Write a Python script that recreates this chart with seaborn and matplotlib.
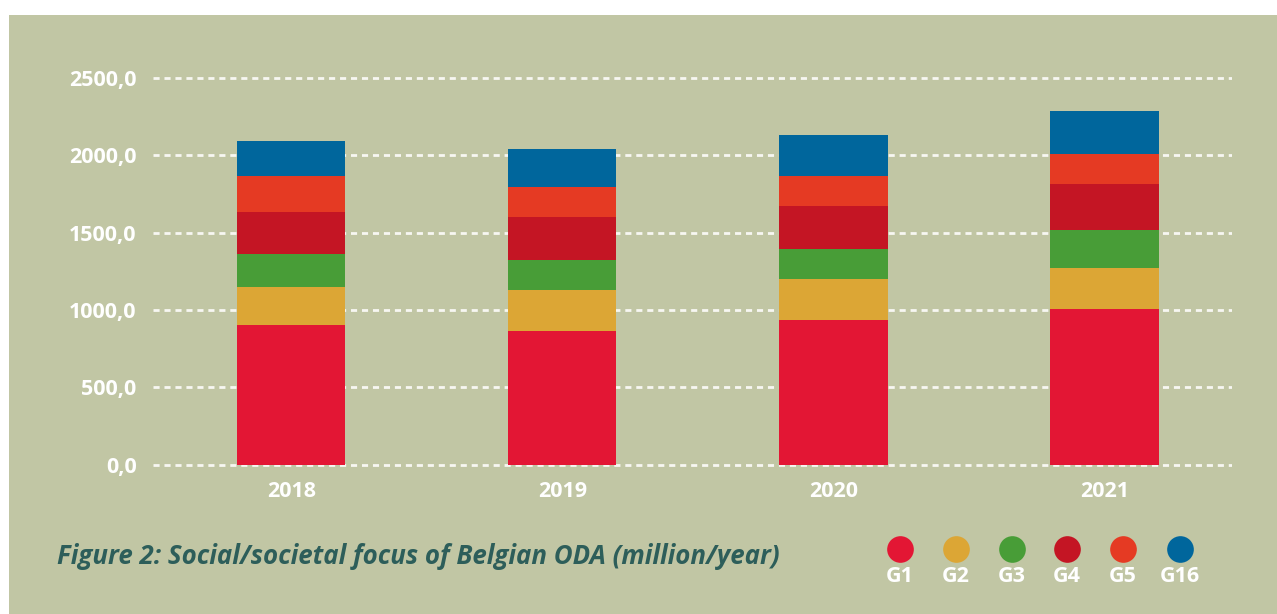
import matplotlib
matplotlib.use("Agg")
import matplotlib.pyplot as plt
from matplotlib.patches import Rectangle
from matplotlib.lines import Line2D
import seaborn as sns
import pandas as pd
import numpy as np

# ---- data ----
years = ["2018", "2019", "2020", "2021"]
series = ["G1", "G2", "G3", "G4", "G5", "G16"]
G1 = [902, 865, 936, 1005]
G2 = [246, 265, 263, 265]
G3 = [211, 192, 194, 245]
G4 = [275, 280, 280, 297]
G5 = [231, 194, 192, 194]
G16 = [228, 243, 265, 278]
ytick_values = [0, 500, 1000, 1500, 2000, 2500]
ytick_labels = ["0,0", "500,0", "1000,0", "1500,0", "2000,0", "2500,0"]
title = "Figure 2: Social/societal focus of Belgian ODA (million/year)"

colors = {"G1": "#E31634", "G2": "#DCA635", "G3": "#489D37",
          "G4": "#C41524", "G5": "#E53A23", "G16": "#00669C"}

values = {"G1": G1, "G2": G2, "G3": G3, "G4": G4, "G5": G5, "G16": G16}
rows = []
for s in series:
    for y, v in zip(years, values[s]):
        rows.append({"year": y, "series": s, "value": v})
df = pd.DataFrame(rows)
df["cum"] = df.groupby("year")["value"].cumsum()

sns.set_theme(style="white")
plt.rcParams["font.family"] = ["Open Sans", "DejaVu Sans"]
plt.rcParams["lines.scale_dashes"] = False

W, H = 1277, 614
fig = plt.figure(figsize=(W / 100, H / 100), dpi=100, facecolor="white")
bg = "#C1C6A4"
fig.add_artist(Rectangle((9 / W, 0), 1 - 9 / W, (H - 15) / H,
                         transform=fig.transFigure, facecolor=bg,
                         edgecolor="none", zorder=0))

# axes placement in pixels
x_left, x_right = 153.3, 1231.7
y_lo_px, y_hi_px = 469.3, 73.2   # for ylim (-30, 2530)
ax = fig.add_axes([x_left / W, (H - y_lo_px) / H,
                   (x_right - x_left) / W, (y_lo_px - y_hi_px) / H])
ax.set_facecolor("none")

for s in reversed(series):
    sub = df[df["series"] == s]
    sns.barplot(data=sub, x="year", y="cum", order=years, color=colors[s],
                saturation=1, width=0.4, errorbar=None, ax=ax,
                linewidth=0, zorder=3)

ax.set_xlim(-0.509, 3.470)
ax.set_ylim(-30, 2530)
ax.set_yticks(ytick_values)
ax.set_yticklabels(ytick_labels)
ax.set_xlabel("")
ax.set_ylabel("")
for sp in ax.spines.values():
    sp.set_visible(False)
ax.set_axisbelow(True)
ax.yaxis.grid(True, color="#F7F7F2", linewidth=2.0,
              linestyle=(0, (4.4, 3.5)))
ax.xaxis.grid(False)
ax.tick_params(axis="both", length=0, colors="white", labelsize=15.5)
ax.tick_params(axis="y", pad=12)
ax.tick_params(axis="x", pad=8.5)
for lab in ax.get_xticklabels() + ax.get_yticklabels():
    lab.set_fontweight("bold")
    lab.set_color("white")

# title
fig.text(57 / W, (H - 564) / H, title, fontsize=18.6, fontweight="bold",
         fontstyle="italic", color="#2D5E5A", ha="left", va="baseline")

# legend
leg_x = [900, 956, 1012, 1067, 1123, 1180]
for s, xpx in zip(series, leg_x):
    fig.add_artist(Line2D([xpx / W], [(H - 549) / H], marker="o",
                          markersize=19.2, markeredgewidth=0,
                          color=colors[s], transform=fig.transFigure))
    fig.text(xpx / W, (H - 577) / H, s, fontsize=15.5, fontweight="bold",
             color="white", ha="center", va="center")

fig.savefig("out.png", dpi=100, facecolor="white")
